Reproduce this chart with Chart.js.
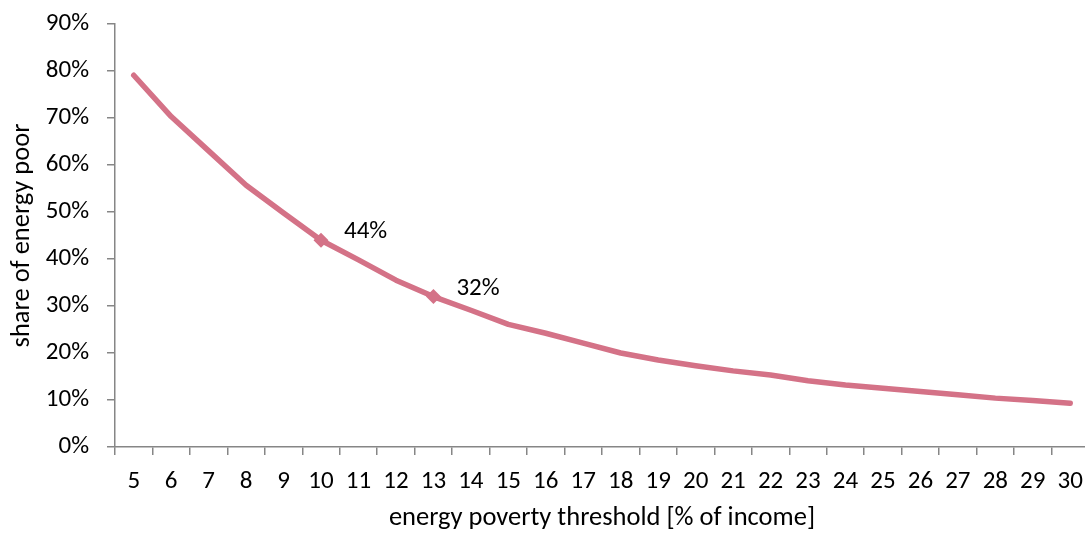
<!DOCTYPE html>
<html>
<head>
<meta charset="utf-8">
<script src="https://cdn.jsdelivr.net/npm/chart.js@4/dist/chart.umd.min.js"></script>
<style>
  html, body { margin: 0; padding: 0; overflow: hidden; background: #ffffff; }
  canvas { display: block; }
</style>
</head>
<body>
<canvas id="chart" width="1095" height="534"></canvas>
<script>
// Energy poverty threshold (% of income) on the category axis
const thresholds = [5, 6, 7, 8, 9, 10, 11, 12, 13, 14, 15, 16, 17, 18, 19, 20,
                    21, 22, 23, 24, 25, 26, 27, 28, 29, 30];

// Share of households counted as energy poor at each threshold, in %
const sharePoor = [79.1, 70.3, 63.0, 55.7, 49.8, 44.0, 39.8, 35.5, 32.0, 29.1,
                   26.1, 24.2, 22.1, 20.0, 18.5, 17.3, 16.2, 15.3, 14.1, 13.2,
                   12.5, 11.8, 11.1, 10.4, 9.9, 9.3];

// Thresholds that get a diamond marker and a value label
const labelledThresholds = [10, 13];

// Value-axis range and step, in %
const yMin = 0;
const yMax = 90;
const yStep = 10;

const FONT = 'Carlito, Calibri, "Open Sans", sans-serif';
const TICK_SIZE = 25;
const TITLE_SIZE = 26.5;
const AXIS_GREY = '#868686';
const LINE_PINK = '#d47287';

const isLabelled = thresholds.map(t => labelledThresholds.includes(t));

// Writes the value next to each marked point
const valueLabels = {
  id: 'valueLabels',
  afterDatasetsDraw(chart) {
    const ctx = chart.ctx;
    const meta = chart.getDatasetMeta(0);
    ctx.save();
    ctx.font = TICK_SIZE + 'px ' + FONT;
    ctx.fillStyle = '#000000';
    ctx.textAlign = 'left';
    ctx.textBaseline = 'middle';
    isLabelled.forEach((on, i) => {
      if (!on) return;
      const pt = meta.data[i];
      ctx.fillText(Math.round(sharePoor[i]) + '%', pt.x + 23, pt.y - 8);
    });
    ctx.restore();
  }
};

new Chart(document.getElementById('chart'), {
  type: 'line',
  data: {
    labels: thresholds.map(String),
    datasets: [{
      data: sharePoor,
      borderColor: LINE_PINK,
      backgroundColor: LINE_PINK,
      borderWidth: 5.5,
      borderCapStyle: 'round',
      borderJoinStyle: 'round',
      tension: 0,
      fill: false,
      pointStyle: 'rectRot',
      pointRadius: isLabelled.map(on => (on ? 7.5 : 0)),
      pointHoverRadius: 0,
      pointBorderWidth: 0,
      pointBackgroundColor: LINE_PINK
    }]
  },
  options: {
    responsive: false,
    animation: false,
    devicePixelRatio: 1,
    layout: { padding: { top: 24, right: 5, left: 0, bottom: 0 } },
    plugins: {
      legend: { display: false },
      tooltip: { enabled: false }
    },
    scales: {
      x: {
        type: 'category',
        offset: true,
        grid: {
          offset: true,
          drawOnChartArea: false,
          drawTicks: true,
          tickLength: 8,
          color: AXIS_GREY,
          lineWidth: 1.5
        },
        border: { display: true, color: AXIS_GREY, width: 1.5 },
        ticks: {
          color: '#000000',
          font: { family: FONT, size: TICK_SIZE },
          padding: 12,
          maxRotation: 0,
          autoSkip: false
        },
        title: {
          display: true,
          text: 'energy poverty threshold [% of income]',
          color: '#000000',
          font: { family: FONT, size: TITLE_SIZE },
          padding: { top: 0, bottom: 0 }
        },
        afterFit(scale) { scale.height = 87; }
      },
      y: {
        min: yMin,
        max: yMax,
        grid: {
          drawOnChartArea: false,
          drawTicks: true,
          tickLength: 8,
          color: AXIS_GREY,
          lineWidth: 1.5
        },
        border: { display: true, color: AXIS_GREY, width: 1.5 },
        ticks: {
          stepSize: yStep,
          color: '#000000',
          font: { family: FONT, size: TICK_SIZE },
          padding: 18,
          callback: v => v + '%'
        },
        title: {
          display: true,
          text: 'share of energy poor',
          color: '#000000',
          font: { family: FONT, size: TITLE_SIZE },
          padding: { top: 6, bottom: 0 }
        },
        afterFit(scale) {
          // fixed axis width; no extra room above/below for the end labels
          scale.width = 115;
          scale.paddingTop = 0;
          scale.paddingBottom = 0;
        }
      }
    }
  },
  plugins: [valueLabels]
});
</script>
</body>
</html>
